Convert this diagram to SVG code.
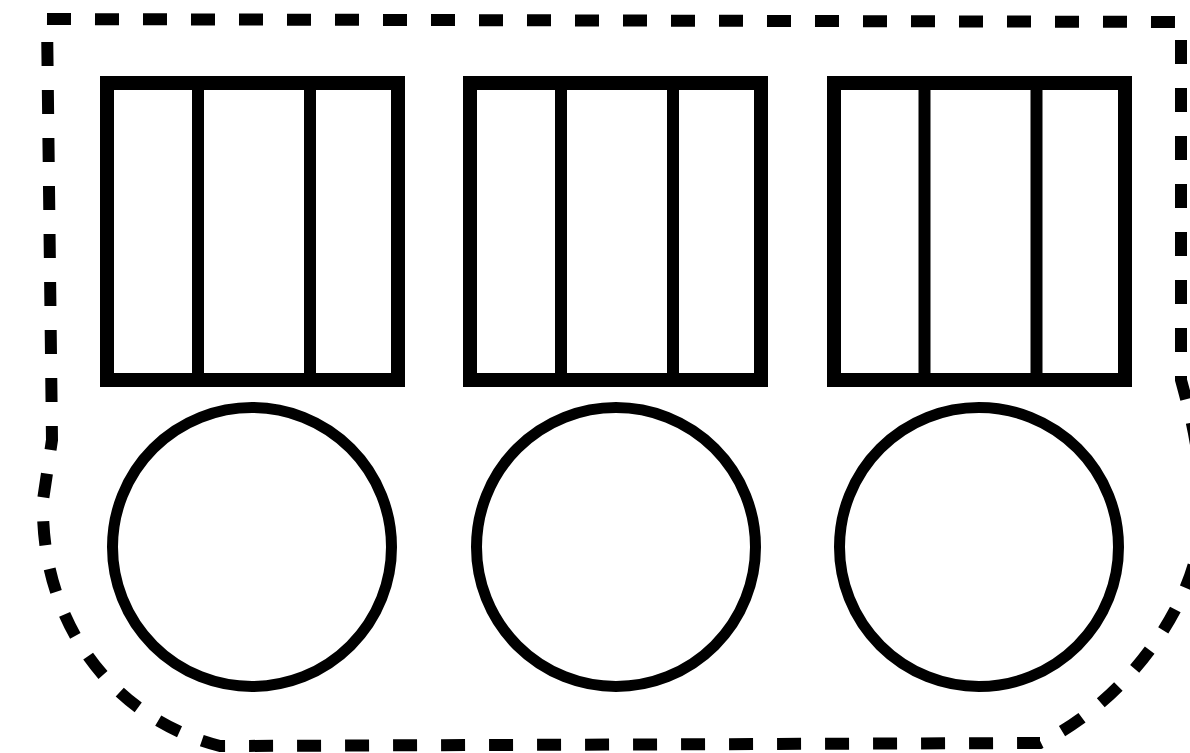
<svg xmlns="http://www.w3.org/2000/svg" width="1190" height="753" viewBox="0 0 1190 753">
  <style>
    .frame { fill: none; stroke: #000; stroke-width: 14; }
    .div { stroke: #000; stroke-width: 12; }
    .wheel { fill: none; stroke: #000; stroke-width: 11; }
    .outline { fill: none; stroke: #000; stroke-width: 12; stroke-dasharray: 24 24; }
  </style>
  <rect width="1190" height="753" fill="#fff"/>
  <g id="outline">
    <path class="outline" d="M47,19 L1181,22 L1181,380 C1192,420 1205,470 1200,530 C1196,600 1130,700 1040,743 L220,746 C110,718 40,620 43,500 L52,440 L47,19"/>
  </g>
  <g id="car1">
    <rect class="frame" x="107" y="83" width="291" height="297"/>
    <line class="div" x1="198" y1="83" x2="198" y2="380"/>
    <line class="div" x1="310" y1="83" x2="310" y2="380"/>
  </g>
  <g id="car2">
    <rect class="frame" x="470" y="83" width="291" height="297"/>
    <line class="div" x1="561" y1="83" x2="561" y2="380"/>
    <line class="div" x1="673" y1="83" x2="673" y2="380"/>
  </g>
  <g id="car3">
    <rect class="frame" x="834" y="83" width="291" height="297"/>
    <line class="div" x1="924.5" y1="83" x2="924.5" y2="380"/>
    <line class="div" x1="1036.5" y1="83" x2="1036.5" y2="380"/>
  </g>
  <g id="wheel1"><circle class="wheel" cx="252" cy="547" r="139.5"/></g>
  <g id="wheel2"><circle class="wheel" cx="616" cy="547" r="139.5"/></g>
  <g id="wheel3"><circle class="wheel" cx="979" cy="547" r="139.5"/></g>
</svg>
